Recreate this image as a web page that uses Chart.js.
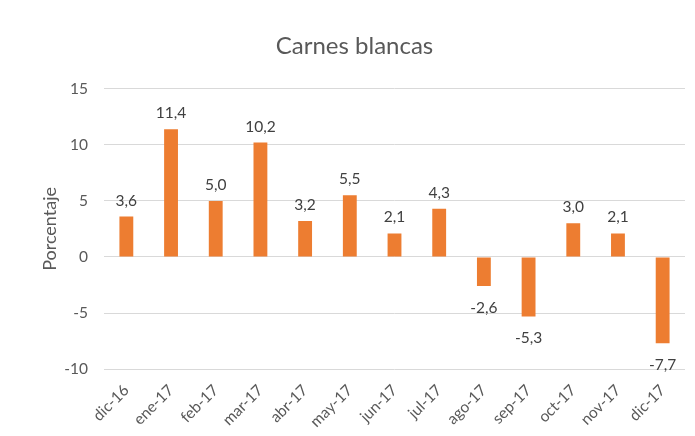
<!DOCTYPE html>
<html>
<head>
<meta charset="utf-8">
<script src="https://cdn.jsdelivr.net/npm/chart.js@4"></script>
<style>
  html, body { margin: 0; padding: 0; background: #fff; }
  #wrap { width: 695px; height: 436px; position: relative; }
</style>
</head>
<body>
<div id="wrap"><canvas id="carnesChart"></canvas></div>
<script>
// datos
const meses = ["dic-16", "ene-17", "feb-17", "mar-17", "abr-17", "may-17", "jun-17",
  "jul-17", "ago-17", "sep-17", "oct-17", "nov-17", "dic-17"];
const porcentaje = [3.6, 11.4, 5.0, 10.2, 3.2, 5.5, 2.1, 4.3, -2.6, -5.3, 3.0, 2.1, -7.7];
const ticksY = [-10, -5, 0, 5, 10, 15];

const fuente = "Lato, 'Open Sans', sans-serif";
const gris = "#595959";

// etiquetas de valor encima / debajo de cada barra
const etiquetas = {
  id: "etiquetas",
  afterDatasetsDraw(chart) {
    const c = chart.ctx;
    const meta = chart.getDatasetMeta(0);
    c.save();
    c.font = "15.5px " + fuente;
    c.fillStyle = "#404040";
    c.textAlign = "center";
    c.textBaseline = "alphabetic";
    meta.data.forEach((bar, i) => {
      const v = porcentaje[i];
      const txt = v.toFixed(1).replace(".", ",");
      if (v >= 0) {
        c.fillText(txt, bar.x, bar.y - 11);
      } else {
        c.fillText(txt, bar.x, bar.y + 27);
      }
    });
    c.restore();
  },
};

new Chart(document.getElementById("carnesChart"), {
  type: "bar",
  data: {
    labels: meses,
    datasets: [
      {
        label: "Carnes blancas",
        data: porcentaje,
        backgroundColor: "#ED7D31",
        barPercentage: 0.31,
        categoryPercentage: 1,
      },
    ],
  },
  options: {
    responsive: true,
    maintainAspectRatio: false,
    animation: false,
    layout: { padding: { left: 24, right: 10, top: 10, bottom: 1 } },
    plugins: {
      legend: { display: false },
      tooltip: { enabled: false },
      title: {
        display: true,
        text: "Carnes blancas",
        color: gris,
        font: { family: fuente, size: 24, weight: "normal" },
        padding: { top: 22, bottom: 28 },
      },
    },
    scales: {
      x: {
        grid: { display: false },
        border: { display: false },
        ticks: {
          color: gris,
          font: { family: fuente, size: 15.5 },
          minRotation: 45,
          maxRotation: 45,
          padding: 4,
        },
      },
      y: {
        min: -10,
        max: 15,
        afterBuildTicks: (axis) => {
          axis.ticks = ticksY.map((v) => ({ value: v }));
        },
        afterFit: (axis) => {
          axis.width = 80;
        },
        grid: { color: "#d9d9d9", drawTicks: false },
        border: { display: false },
        ticks: {
          color: gris,
          font: { family: fuente, size: 15.5 },
          padding: 16,
        },
        title: {
          display: true,
          text: "Porcentaje",
          color: gris,
          font: { family: fuente, size: 18 },
          padding: { top: 15, bottom: 0 },
        },
      },
    },
  },
  plugins: [etiquetas],
});
</script>
</body>
</html>
